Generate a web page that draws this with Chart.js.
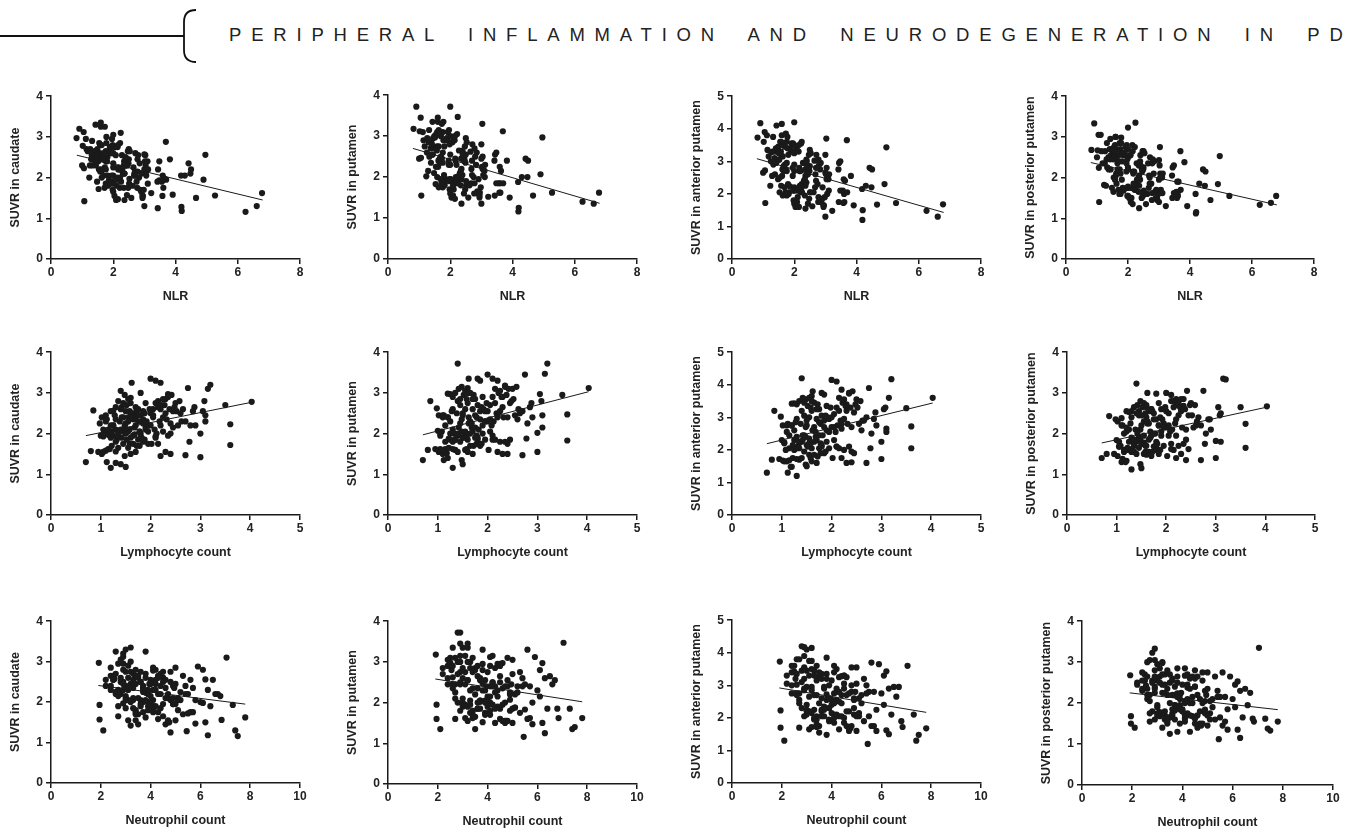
<!DOCTYPE html>
<html lang="en">
<head>
<meta charset="UTF-8">
<title>Peripheral inflammation and neurodegeneration in PD</title>
<script src="https://cdn.jsdelivr.net/npm/chart.js"></script>
<style>
  body { margin: 0; background: #fff; width: 1354px; height: 832px; position: relative; overflow: hidden;
         font-family: "Liberation Sans", Arial, sans-serif; }
  #header { position: absolute; left: 229px; top: 26px; font-size: 18.5px; line-height: 1; letter-spacing: 9.8px;
            word-spacing: 9.5px; color: #222; white-space: nowrap; }
  canvas { position: absolute; }
</style>
</head>
<body>
<svg width="220" height="72" style="position:absolute;left:0;top:0">
  <path d="M0 36 H184" stroke="#111" stroke-width="1.8" fill="none"/>
  <path d="M196 10 Q184 10 184 22 V50 Q184 62 196 62" stroke="#111" stroke-width="1.8" fill="none"/>
</svg>
<div id="header">PERIPHERAL INFLAMMATION AND NEURODEGENERATION IN PD</div>

<script>
// one value per patient, same order in every array
const lymphocyte = [
  0.70,0.80,0.85,0.98,0.95,1.00,1.02,1.05,1.05,1.08,
  1.10,1.10,1.12,1.15,1.20,1.15,1.18,1.20,1.20,1.22,
  1.25,1.25,1.28,1.30,1.30,1.30,1.32,1.35,1.35,1.38,
  1.40,1.40,1.40,1.42,1.42,1.45,1.45,1.45,1.48,1.48,
  1.48,1.50,1.50,1.50,1.35,1.10,1.22,1.05,1.12,1.30,
  1.25,1.52,1.55,1.55,1.55,1.58,1.60,1.60,1.60,1.62,
  1.65,1.65,1.65,1.68,1.70,1.70,1.70,1.72,1.75,1.75,
  1.75,1.78,1.80,1.80,1.80,1.82,1.85,1.85,1.88,1.90,
  1.90,1.92,1.95,1.95,1.98,1.55,1.60,1.78,1.62,1.85,
  1.58,2.00,2.00,2.02,2.05,2.05,2.08,2.10,2.10,2.12,
  2.15,2.15,2.18,2.20,2.20,2.20,2.22,2.25,2.25,2.28,
  2.30,2.30,2.32,2.35,2.38,2.40,2.40,2.40,2.42,2.45,
  2.45,2.48,2.10,2.50,2.52,2.55,2.58,2.60,2.62,2.65,
  2.70,2.70,2.75,2.78,2.80,2.85,2.88,2.90,3.00,3.00,
  3.05,3.08,3.10,3.10,3.15,3.20,2.35,3.50,3.60,3.60,
  4.03,1.30,1.02,1.30,1.35,1.40,1.42,1.45,1.48,1.50,
  1.52,1.55,1.58,1.60,1.62,1.65,1.68,1.70,1.72,1.75,
  1.78,1.80,1.85,1.88,1.90,1.95,2.00,2.05,2.10,2.15,
  2.20,2.25,2.30,2.35,1.25,1.15,1.35,1.20
];
const neutrophil = [
  2.10,1.95,2.55,2.60,3.40,4.90,2.40,3.10,1.95,3.30,
  2.70,4.30,7.40,7.80,7.50,2.90,3.80,4.10,2.50,3.50,
  4.50,2.80,3.20,5.45,3.00,2.40,4.10,3.60,2.70,4.20,
  2.80,3.30,4.80,2.50,3.90,5.20,3.00,2.20,3.50,4.00,
  2.90,6.30,3.20,2.60,5.80,4.20,5.10,4.70,4.95,3.40,
  6.20,3.80,2.40,4.50,3.10,5.70,2.90,3.60,4.70,2.60,
  3.30,4.10,2.80,6.10,3.90,3.00,5.00,2.50,4.40,3.50,
  2.90,5.30,3.20,4.00,6.40,2.70,3.70,4.60,3.30,5.10,
  3.60,2.40,4.30,6.70,3.10,5.40,5.90,4.80,3.95,5.60,
  2.20,3.20,4.40,5.60,2.80,3.70,4.90,3.00,4.20,6.00,
  3.40,5.30,2.90,3.80,4.60,6.60,3.30,5.00,4.10,2.60,
  4.70,3.60,5.70,3.10,4.50,6.20,3.90,5.20,2.70,4.00,
  6.80,3.50,7.30,4.80,3.30,5.50,4.20,3.60,6.30,4.50,
  5.80,3.90,2.90,5.10,4.30,6.50,3.40,4.70,3.20,3.70,
  4.60,6.10,3.10,4.00,7.05,2.90,1.92,4.40,3.80,5.50,
  4.10,6.85,4.75,3.70,2.90,3.80,4.40,3.40,2.60,4.20,
  3.00,3.70,4.60,3.20,4.90,3.60,2.70,4.30,3.40,4.10,
  3.00,5.00,3.90,4.50,3.00,3.80,4.80,3.40,4.50,3.70,
  4.30,3.20,4.10,4.90,3.90,3.50,5.00,5.40
];
const nlr = [
  3.00,2.44,3.00,2.65,3.58,4.90,2.35,2.95,1.86,3.06,
  2.45,3.91,6.61,6.78,6.25,2.52,3.22,3.42,2.08,2.87,
  3.60,2.24,2.50,4.19,2.31,1.85,3.11,2.67,2.00,3.04,
  2.00,2.36,3.43,1.76,2.75,3.59,2.07,1.52,2.36,2.70,
  1.96,4.20,2.13,1.73,4.30,3.82,4.18,4.48,4.42,2.62,
  4.96,2.50,1.55,2.90,2.00,3.61,1.81,2.25,2.94,1.60,
  2.00,2.48,1.70,3.63,2.29,1.76,2.94,1.45,2.51,2.00,
  1.66,2.98,1.78,2.22,3.56,1.48,2.00,2.49,1.76,2.68,
  1.89,1.25,2.21,3.44,1.57,3.48,3.69,2.70,2.44,3.03,
  1.39,1.60,2.20,2.77,1.37,1.80,2.36,1.43,2.00,2.83,
  1.58,2.47,1.33,1.73,2.09,3.00,1.49,2.22,1.82,1.14,
  2.04,1.57,2.46,1.32,1.89,2.58,1.63,2.17,1.12,1.63,
  2.78,1.41,3.48,1.92,1.31,2.16,1.63,1.38,2.40,1.70,
  2.15,1.44,1.05,1.83,1.54,2.28,1.18,1.62,1.07,1.23,
  1.51,1.98,1.00,1.29,2.24,0.91,0.82,1.26,1.06,1.53,
  1.02,5.27,4.66,2.85,2.15,2.71,3.10,2.34,1.76,2.80,
  1.97,2.39,2.91,2.00,3.02,2.18,1.61,2.53,1.98,2.34,
  1.69,2.78,2.11,2.39,1.58,1.95,2.40,1.66,2.14,1.72,
  1.95,1.42,1.78,2.09,3.12,3.04,3.70,4.50
];
const suvrCaudate = [
  1.30,1.57,2.57,2.25,1.55,1.95,2.40,1.55,1.93,2.05,
  2.30,1.58,1.30,1.62,1.16,1.97,1.62,1.90,2.55,1.70,
  1.95,2.20,2.45,1.28,2.10,2.65,1.85,2.05,1.65,2.30,
  3.05,2.10,1.25,2.65,1.90,2.05,2.75,2.40,1.45,2.15,
  2.95,1.18,2.00,2.25,2.05,2.45,2.05,2.10,2.35,1.80,
  2.56,2.70,2.85,1.65,2.05,1.75,2.50,1.90,1.50,3.25,
  2.35,1.75,2.50,1.98,2.20,2.40,1.55,2.55,1.85,2.60,
  2.45,1.70,3.00,2.00,1.90,1.90,2.25,2.35,1.85,2.10,
  2.75,2.30,1.75,2.20,2.60,2.40,2.88,2.05,2.45,2.55,
  2.55,3.35,2.20,1.75,2.60,2.40,2.10,3.30,1.90,2.00,
  2.80,2.65,2.30,3.25,1.45,2.20,2.70,2.85,2.05,2.70,
  1.55,2.50,2.35,2.90,2.60,1.50,2.00,2.25,2.95,2.55,
  2.15,2.65,1.93,2.75,2.55,2.20,2.80,2.50,2.30,2.60,
  1.47,2.30,3.12,1.80,2.20,2.55,2.65,2.20,1.42,2.00,
  2.55,2.80,2.30,2.45,3.10,3.20,2.97,2.70,2.23,1.72,
  2.78,1.56,1.50,2.35,2.80,2.60,2.40,1.75,2.20,2.55,
  1.85,2.30,2.10,2.75,2.40,1.95,2.15,2.65,1.70,2.30,
  2.05,2.45,1.80,2.50,2.15,2.05,2.50,2.45,2.75,1.75,
  2.60,2.40,2.85,1.95,2.20,2.10,1.95,2.20
];
const suvrPutamen = [
  1.35,1.60,2.80,2.62,1.62,2.07,2.45,1.62,1.95,2.05,
  2.45,1.50,1.35,1.62,1.40,1.80,1.52,2.40,2.98,1.65,
  1.85,2.00,2.55,1.16,2.10,2.90,2.00,1.85,1.60,2.50,
  3.72,1.95,1.55,3.10,2.00,2.25,2.85,2.70,1.35,2.05,
  3.15,1.25,1.90,2.45,2.00,2.40,1.88,2.00,2.45,1.80,
  2.97,2.95,3.05,1.60,1.95,1.62,2.75,1.85,1.55,3.35,
  2.30,1.70,3.00,2.15,2.05,2.60,1.50,2.95,1.90,2.85,
  2.45,1.75,3.35,1.90,1.85,2.10,2.55,2.35,1.75,2.20,
  2.90,2.60,1.85,2.55,2.75,2.60,3.12,2.40,2.40,3.30,
  2.85,3.45,2.30,1.60,2.70,2.05,2.20,3.35,1.95,2.30,
  3.10,2.75,2.50,3.30,1.55,2.45,3.00,3.05,1.80,2.90,
  1.50,2.65,2.40,3.15,2.95,1.50,1.75,2.40,3.10,2.75,
  1.85,2.80,1.85,3.10,2.85,2.45,3.15,2.35,2.60,2.50,
  1.47,2.55,3.45,1.88,2.25,2.65,2.75,2.40,1.55,2.02,
  2.97,2.80,2.45,2.15,3.47,3.72,3.18,2.95,2.47,1.83,
  3.12,1.62,1.55,2.60,3.00,2.80,2.15,1.80,2.35,2.50,
  1.90,2.05,1.95,3.00,2.25,2.00,2.25,2.85,1.70,2.15,
  1.95,2.70,1.70,2.65,2.00,2.30,2.55,2.35,2.90,1.85,
  2.40,2.55,2.90,1.80,2.30,2.20,1.85,2.40
];
const suvrAnterior = [
  1.30,1.70,3.20,3.02,1.72,2.30,2.75,1.65,2.23,2.00,
  2.75,1.65,1.30,1.68,1.48,2.05,1.48,2.75,3.42,1.75,
  2.00,2.30,2.85,1.20,2.40,3.40,2.10,2.20,1.70,2.80,
  4.20,2.25,1.75,3.60,2.30,2.45,3.45,3.05,1.55,2.40,
  3.55,1.50,2.15,2.75,2.25,2.55,2.15,2.20,2.80,2.05,
  3.43,3.35,3.60,1.85,2.20,1.75,3.20,2.05,1.65,3.80,
  2.70,1.85,3.45,2.40,2.30,2.95,1.60,3.40,2.05,3.25,
  2.85,1.90,3.75,2.15,2.10,2.45,2.90,2.70,1.95,2.60,
  3.35,3.00,2.05,2.95,3.30,3.00,3.65,2.80,2.60,3.70,
  3.30,4.15,2.70,1.75,3.10,2.30,2.55,4.10,2.10,2.75,
  3.60,3.20,2.90,3.85,1.75,2.65,3.45,3.55,2.00,3.35,
  1.60,3.20,2.80,3.75,3.30,1.62,1.95,2.70,3.80,3.15,
  1.90,3.40,2.10,3.55,3.30,2.80,3.50,2.60,2.90,2.90,
  1.60,3.00,3.90,2.05,2.50,2.95,3.15,2.75,1.72,2.25,
  3.25,3.30,2.65,2.55,3.60,4.17,3.73,3.28,2.72,2.05,
  3.60,1.72,1.67,2.95,3.50,3.20,2.45,1.95,2.70,2.90,
  2.10,2.35,2.20,3.50,2.60,2.25,2.55,3.25,1.80,2.45,
  2.20,3.05,1.90,3.05,2.25,2.55,3.00,2.70,3.30,2.05,
  2.80,2.95,3.40,2.10,2.60,2.45,2.05,2.75
];
const suvrPosterior = [
  1.40,1.50,2.43,2.35,1.50,1.84,2.30,1.68,1.68,1.70,
  2.20,1.30,1.38,1.55,1.33,1.60,1.30,2.05,2.55,1.65,
  1.62,1.80,2.25,1.12,1.90,2.55,1.62,1.75,1.55,2.10,
  3.23,1.80,1.50,2.70,1.85,1.90,2.55,2.45,1.25,1.85,
  2.80,1.15,1.75,2.20,1.85,2.38,1.60,1.80,2.20,1.60,
  2.53,2.65,2.75,1.50,1.78,1.55,2.40,1.70,1.48,3.00,
  2.25,1.55,2.55,1.90,1.95,2.60,1.45,2.55,1.68,2.50,
  2.35,1.60,2.98,1.80,1.65,1.75,2.20,2.20,1.60,2.05,
  2.60,2.35,1.70,2.25,2.65,2.30,2.65,2.00,2.25,2.75,
  2.50,3.00,2.15,1.45,2.50,1.95,2.05,2.95,1.75,2.10,
  2.80,2.65,2.25,2.85,1.40,1.95,2.70,2.75,1.70,2.65,
  1.50,2.55,2.15,2.85,2.60,1.35,1.85,2.10,3.05,2.45,
  1.62,2.70,1.62,2.75,2.45,2.15,2.70,2.20,2.30,2.40,
  1.35,2.20,3.05,1.75,2.00,2.35,2.35,2.10,1.40,1.82,
  2.65,2.45,2.50,1.80,3.35,3.33,2.68,2.65,2.24,1.65,
  2.67,1.55,1.45,2.40,2.65,2.50,2.00,1.65,2.10,2.45,
  1.75,1.95,1.70,2.70,2.30,1.85,2.05,2.60,1.55,2.00,
  1.70,2.35,1.50,2.40,1.95,2.15,2.55,2.20,2.80,1.60,
  2.35,2.45,2.85,1.75,2.10,2.00,1.70,2.15
];

// fitted lines: [x0, y0, x1, y1] per column
const fitNLR        = [[0.83,2.55,6.8,1.45],[0.8,2.70,6.8,1.36],[0.8,3.08,6.8,1.43],[0.8,2.37,6.8,1.33]];
const fitLymphocyte = [[0.7,1.95,4.03,2.77],[0.7,1.97,4.03,3.03],[0.7,2.19,4.03,3.44],[0.7,1.77,4.03,2.65]];
const fitNeutrophil = [[1.9,2.41,7.8,1.95],[1.9,2.58,7.8,2.02],[1.9,2.92,7.8,2.17],[1.9,2.25,7.8,1.84]];

const xTitles = ['NLR', 'Lymphocyte count', 'Neutrophil count'];
const xMax = [8, 5, 10];
const xStep = [2, 1, 2];
const yTitles = ['SUVR in caudate', 'SUVR in putamen', 'SUVR in anterior putamen', 'SUVR in posterior putamen'];
const yMax = [4, 4, 5, 4];

const rowX = [nlr, lymphocyte, neutrophil];
const colY = [suvrCaudate, suvrPutamen, suvrAnterior, suvrPosterior];
const rowFits = [fitNLR, fitLymphocyte, fitNeutrophil];

// plot area [left, top, right, bottom] of each panel on the page
const plotBoxes = [
  [[51, 94, 300, 259], [388, 93, 637, 259], [732, 94, 981, 259], [1066, 94, 1314, 259]],
  [[51, 350, 300, 515], [388, 350, 637, 515], [732, 350, 981, 515], [1067, 350, 1315, 515]],
  [[51, 619, 300, 783], [388, 619, 637, 784], [732, 618, 981, 783], [1082, 619, 1333, 785]]
];
const AXIS_W = 43, AXIS_H = 45, PAD_T = 8, PAD_R = 12;

const ink = '#1a1a1a';
const tickFont = { family: '"Liberation Sans", Arial, sans-serif', size: 12, weight: 'bold' };
const titleFont = { family: '"Liberation Sans", Arial, sans-serif', size: 12.5, weight: 'bold' };

for (let r = 0; r < 3; r++) {
  for (let c = 0; c < 4; c++) {
    const [l, t, rt, b] = plotBoxes[r][c];
    const w = rt - l + AXIS_W + PAD_R;
    const h = b - t + PAD_T + AXIS_H;
    const cv = document.createElement('canvas');
    cv.width = w; cv.height = h;
    cv.style.left = (l - AXIS_W) + 'px';
    cv.style.top = (t - PAD_T) + 'px';
    cv.style.width = w + 'px';
    cv.style.height = h + 'px';
    document.body.appendChild(cv);

    const xs = rowX[r], ys = colY[c], fit = rowFits[r][c];
    new Chart(cv, {
      type: 'scatter',
      data: {
        datasets: [
          {
            type: 'line',
            data: [{ x: fit[0], y: fit[1] }, { x: fit[2], y: fit[3] }],
            borderColor: ink, borderWidth: 1, pointRadius: 0, fill: false
          },
          {
            data: xs.map((x, i) => ({ x: x, y: ys[i] })),
            backgroundColor: ink, borderWidth: 0, pointRadius: 3.1
          }
        ]
      },
      options: {
        responsive: false,
        animation: false,
        devicePixelRatio: 1,
        layout: { padding: { top: PAD_T, right: PAD_R, left: 0, bottom: 0 } },
        plugins: { legend: { display: false }, tooltip: { enabled: false } },
        scales: {
          x: {
            type: 'linear', min: 0, max: xMax[r],
            ticks: { stepSize: xStep[r], font: tickFont, color: '#222', padding: 1, maxRotation: 0 },
            grid: { drawOnChartArea: false, drawTicks: true, tickLength: 5, color: ink, lineWidth: 1.5 },
            border: { display: true, color: ink, width: 1.5 },
            title: { display: true, text: xTitles[r], font: titleFont, color: '#222', padding: 0 },
            afterFit: s => { s.height = AXIS_H; }
          },
          y: {
            type: 'linear', min: 0, max: yMax[c],
            ticks: { stepSize: 1, font: tickFont, color: '#222', padding: 3 },
            grid: { drawOnChartArea: false, drawTicks: true, tickLength: 5, color: ink, lineWidth: 1.5 },
            border: { display: true, color: ink, width: 1.5 },
            title: { display: true, text: yTitles[c], font: titleFont, color: '#222', padding: 0 },
            afterFit: s => { s.width = AXIS_W; }
          }
        }
      }
    });
  }
}
</script>
</body>
</html>
